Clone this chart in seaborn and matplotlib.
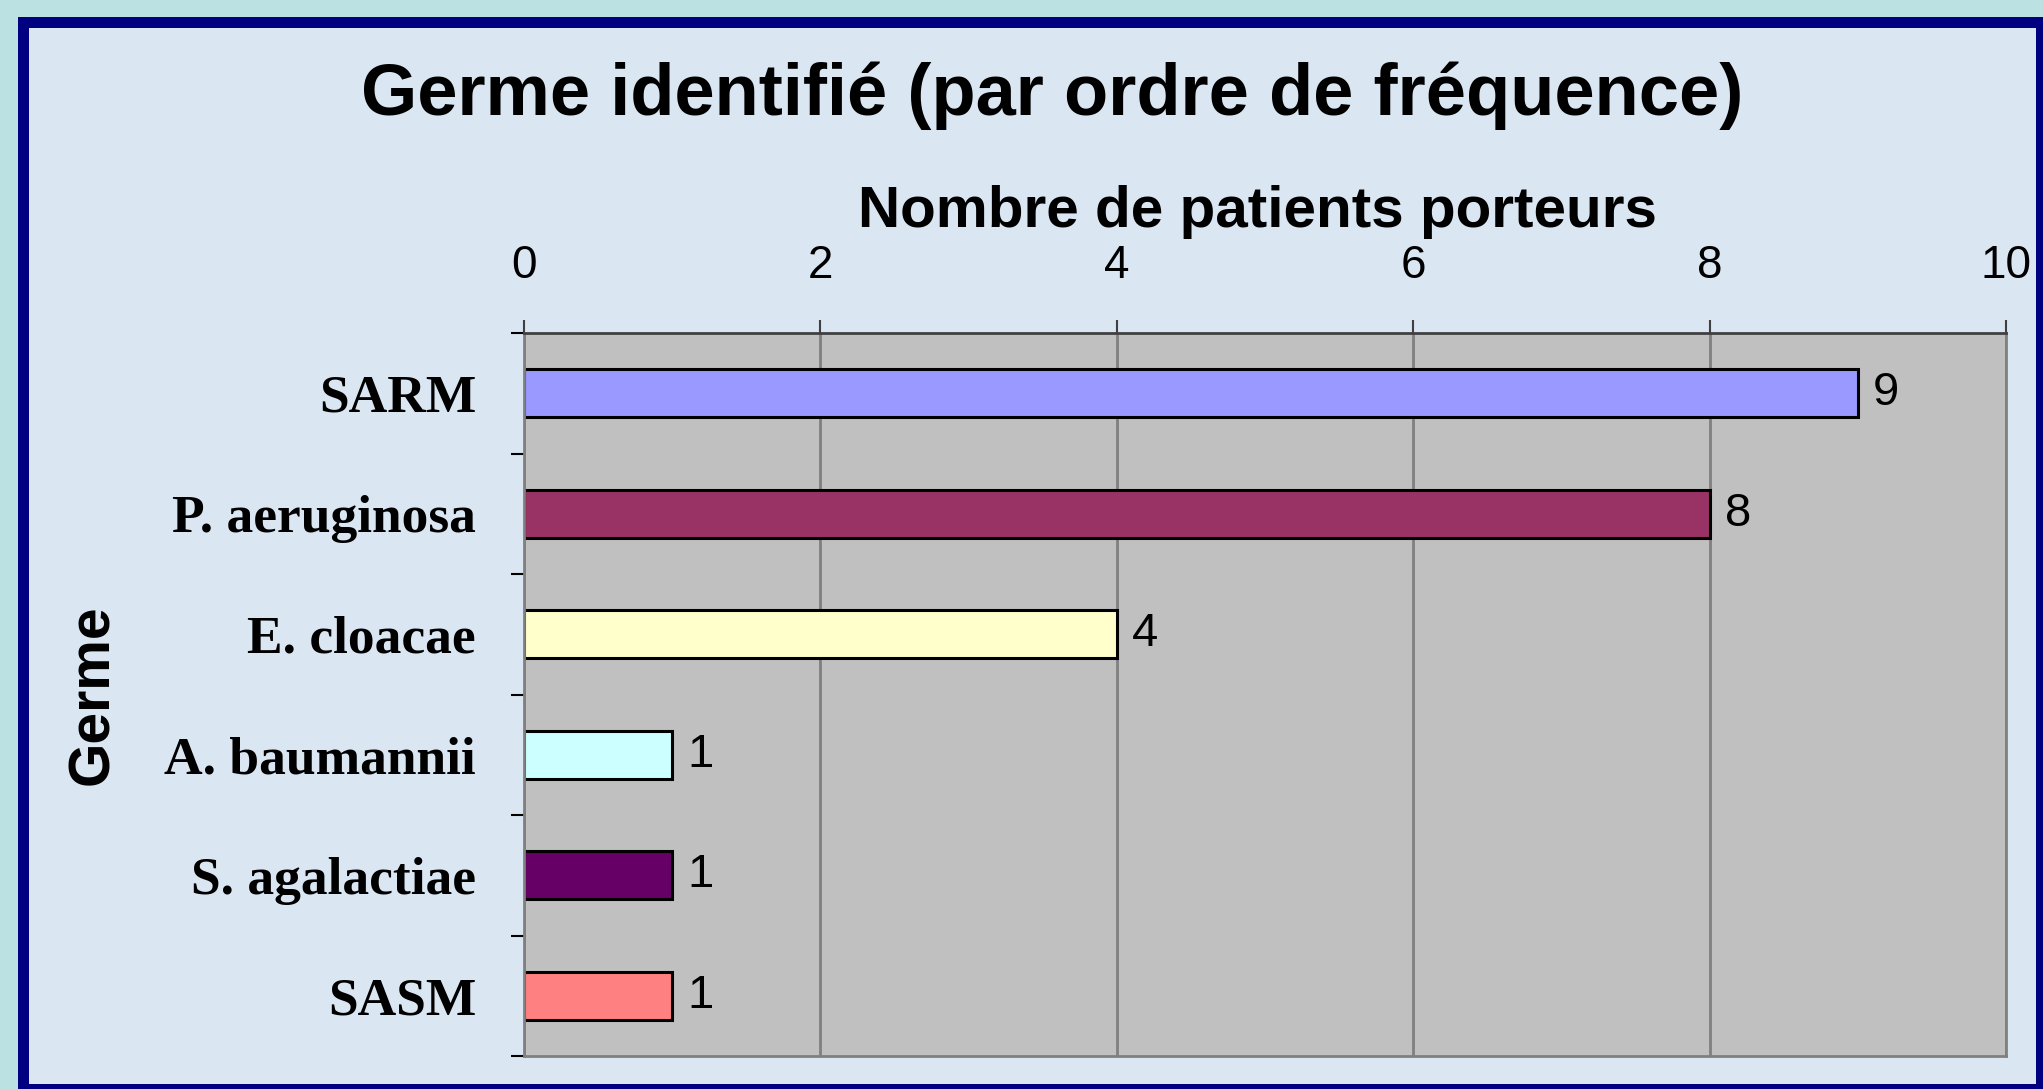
import matplotlib
matplotlib.use('Agg')
import matplotlib.pyplot as plt
import seaborn as sns
import pandas as pd
from matplotlib.patches import Rectangle
from matplotlib.ticker import FixedLocator

# ---- data ----
germes = ['SARM', 'P. aeruginosa', 'E. cloacae', 'A. baumannii', 'S. agalactiae', 'SASM']
patients = [9, 8, 4, 1, 1, 1]
bar_colors = ['#9999FF', '#993366', '#FFFFCC', '#CCFFFF', '#660066', '#FF8080']
x_ticks = [0, 2, 4, 6, 8, 10]

title = 'Germe identifié (par ordre de fréquence)'
x_title = 'Nombre de patients porteurs'
y_title = 'Germe'

df = pd.DataFrame({'Germe': germes, 'Patients': patients})

sns.set_theme(style='white')
plt.rcParams['font.family'] = ['Liberation Sans', 'DejaVu Sans']
plt.rcParams['text.color'] = 'black'
plt.rcParams['axes.labelcolor'] = 'black'
plt.rcParams['xtick.color'] = 'black'
plt.rcParams['ytick.color'] = 'black'

W, H = 2043, 1089
fig = plt.figure(figsize=(W / 100, H / 100), dpi=100, facecolor='#BCE1E3')


def fx(px):
    return px / W


def fy(py):
    return 1 - py / H


# navy frame and light inner panel
fig.patches.append(Rectangle((fx(18), fy(1100)), (2080 - 18) / W, (1100 - 17) / H,
                             transform=fig.transFigure, facecolor='#000080',
                             edgecolor='none', zorder=-2))
fig.patches.append(Rectangle((fx(29), fy(1084)), (2036 - 29) / W, (1084 - 28) / H,
                             transform=fig.transFigure, facecolor='#DAE6F2',
                             edgecolor='none', zorder=-1))

ax = fig.add_axes([fx(524), fy(1056), (2006 - 524) / W, (1056 - 333) / H])
ax.set_zorder(1)
ax.set_facecolor('#C0C0C0')

sns.barplot(data=df, x='Patients', y='Germe', hue='Germe', palette=bar_colors,
            orient='h', width=0.4, edgecolor='black', linewidth=2.2,
            legend=False, saturation=1, ax=ax)

ax.set_xlim(0, 10)
ax.set_ylim(5.5, -0.5)

# x axis on top
ax.xaxis.tick_top()
ax.xaxis.set_label_position('top')
ax.set_xticks(x_ticks)
ax.set_xticklabels([str(t) for t in x_ticks], fontsize=33)
ax.tick_params(axis='x', which='major', top=True, bottom=False, labeltop=True,
               labelbottom=False, direction='out', length=9.4, width=1.5,
               color='#404040', pad=23)
ax.grid(axis='x', color='#808080', linewidth=2)
ax.grid(axis='y', visible=False)
ax.set_axisbelow(True)

# y axis
ax.set_yticks(range(len(germes)))
ax.set_yticklabels(germes, fontfamily='Liberation Serif', fontweight='bold', fontsize=38.5)
ax.tick_params(axis='y', which='major', length=0, pad=34.6)
ax.yaxis.set_minor_locator(FixedLocator([-0.5 + i for i in range(len(germes) + 1)]))
ax.tick_params(axis='y', which='minor', left=True, length=9.4, width=1.5, color='black')

for s in ax.spines.values():
    s.set_color('#808080')
    s.set_linewidth(2)
ax.spines['top'].set_color('#404040')

for c in ax.containers:
    ax.bar_label(c, fmt='%d', padding=11, fontsize=34)

ax.set_xlabel(x_title, fontsize=42, fontweight='bold')
ax.xaxis.set_label_coords(0.495, 1.147)
ax.set_ylabel(y_title, fontsize=41, fontweight='bold')
ax.yaxis.set_label_coords(-0.2725, 0.5)

fig.text(fx(1052), fy(115), title, ha='center', va='baseline', fontsize=52,
         fontweight='bold')

fig.savefig('out.png', dpi=100, facecolor=fig.get_facecolor())
